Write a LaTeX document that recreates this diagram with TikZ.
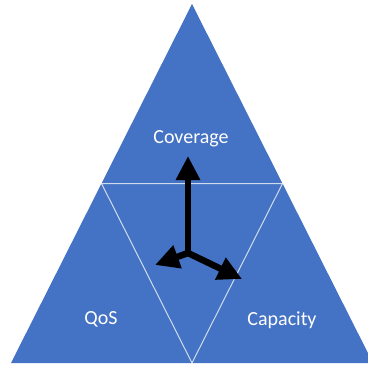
\documentclass[tikz,border=0pt]{standalone}
\usepackage{fontspec}
\setmainfont{Carlito}
\usetikzlibrary{arrows.meta}
\definecolor{tileblue}{HTML}{4472C4}
\tikzset{
  label/.style={text=white, font=\fontsize{20}{24}\selectfont},
  axis/.style={line width=6.5pt, -{Triangle[length=24pt,width=23pt]}}
}
\begin{document}
\begin{tikzpicture}[x=1pt,y=-1pt]
\useasboundingbox (0,0) rectangle (368,367);
\clip (0,0) rectangle (368,367);
\coordinate (apex) at (192,4);
\coordinate (left) at (11,363);
\coordinate (right) at (373,363);
\coordinate (midl) at (101.5,183.5);
\coordinate (midr) at (282.5,183.5);
\coordinate (midb) at (192,363);
\fill [tileblue] (apex) -- (right) -- (left) -- cycle;
\draw [white, opacity=0.75, line width=1pt] (midl) -- (midr) -- (midb) -- cycle;
\node [label] (coverage) at (191,139) {Coverage};
\node [label] (qos) at (101,319) {QoS};
\node [label] (capacity) at (282,320) {Capacity};
\coordinate (hub) at (188,253);
\coordinate (up) at (188,156);
\coordinate (dl) at (155,265);
\coordinate (dr) at (242,279);
\draw [axis] (hub) -- (up);
\draw [axis] (hub) -- (dl);
\draw [axis] (hub) -- (dr);
\end{tikzpicture}
\end{document}
